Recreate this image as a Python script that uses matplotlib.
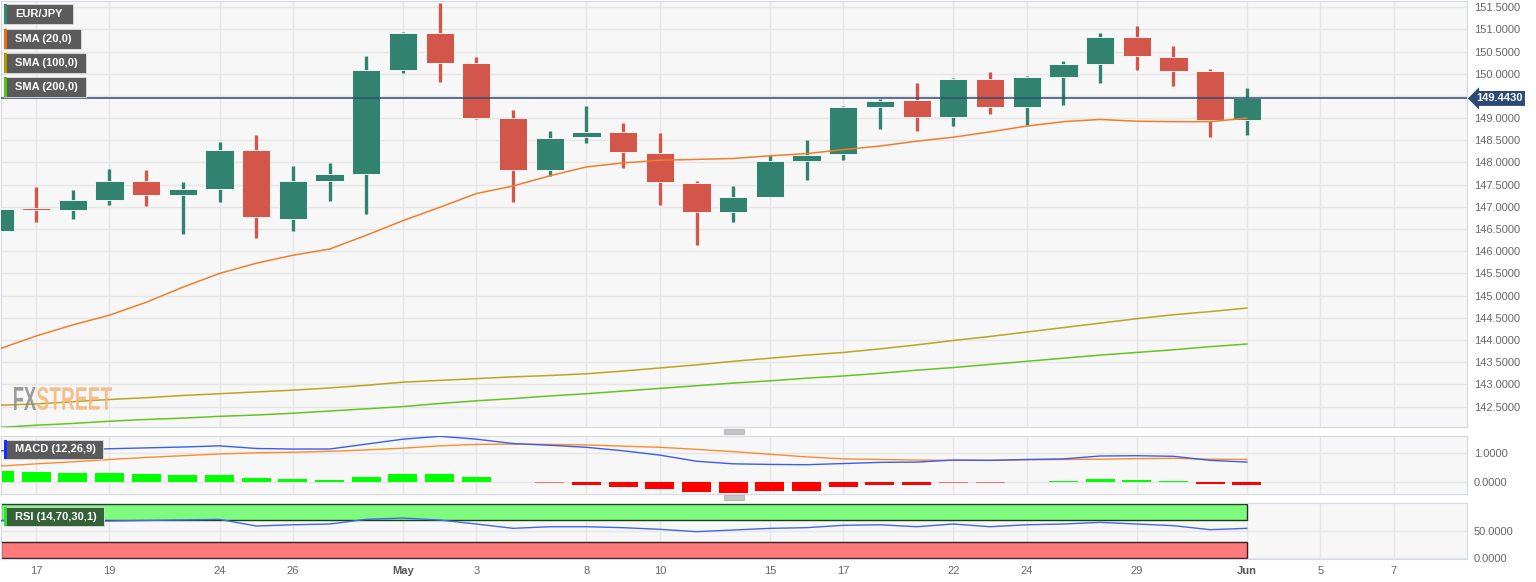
import matplotlib.pyplot as plt
import matplotlib.transforms as mtransforms
from matplotlib.patches import Rectangle, PathPatch
from matplotlib.textpath import TextPath
from matplotlib.font_manager import FontProperties
import numpy as np
import pandas as pd

plt.rcParams['font.family'] = ['Liberation Sans', 'DejaVu Sans']

# Data (EUR/JPY daily)
days = pd.bdate_range('2023-04-14', '2023-06-01')
opens = [146.46, 146.97, 146.93, 147.15, 147.59, 147.26, 147.40, 148.29, 146.72, 147.59,
         147.74, 150.08, 150.92, 150.24, 149.01, 147.82, 148.57, 148.68, 148.21, 147.54,
         146.88, 147.23, 148.04, 148.19, 149.24, 149.40, 149.03, 149.87, 149.25, 149.93,
         150.22, 150.82, 150.38, 150.06, 148.96]
highs = [147.15, 147.44, 147.38, 147.85, 147.83, 147.56, 148.46, 148.62, 147.91, 147.99,
         150.41, 150.95, 151.59, 150.38, 149.19, 148.70, 149.27, 148.90, 148.66, 147.59,
         147.47, 148.18, 148.50, 149.27, 149.44, 149.80, 149.91, 150.03, 149.94, 150.29,
         150.92, 151.07, 150.62, 150.11, 149.67]
lows = [146.23, 146.66, 146.72, 147.05, 147.02, 146.39, 147.12, 146.30, 146.45, 147.14,
        146.84, 150.02, 149.82, 148.98, 147.12, 147.70, 148.44, 147.87, 147.05, 146.13,
        146.66, 147.22, 147.60, 148.06, 148.76, 148.70, 148.82, 149.09, 148.84, 149.29,
        149.80, 150.08, 149.73, 148.58, 148.62]
closes = [146.96, 146.93, 147.15, 147.59, 147.26, 147.40, 148.29, 146.78, 147.59, 147.74,
          150.08, 150.92, 150.24, 149.01, 147.82, 148.56, 148.68, 148.24, 147.56, 146.88,
          147.23, 148.03, 148.18, 149.24, 149.39, 149.03, 149.87, 149.25, 149.92, 150.21,
          150.82, 150.39, 150.07, 148.96, 149.443]
sma20 = [143.80, 144.09, 144.34, 144.56, 144.85, 145.19, 145.50, 145.73, 145.91, 146.05,
         146.36, 146.69, 146.99, 147.30, 147.47, 147.70, 147.90, 147.99, 148.05, 148.07,
         148.09, 148.15, 148.20, 148.29, 148.37, 148.48, 148.57, 148.69, 148.82, 148.92,
         148.97, 148.93, 148.92, 148.92, 149.00]
sma100 = [142.53, 142.56, 142.61, 142.66, 142.70, 142.75, 142.79, 142.83, 142.87, 142.92,
          142.98, 143.05, 143.09, 143.13, 143.17, 143.20, 143.24, 143.30, 143.37, 143.44,
          143.52, 143.59, 143.66, 143.72, 143.80, 143.89, 143.99, 144.08, 144.18, 144.28,
          144.38, 144.48, 144.57, 144.64, 144.72]
sma200 = [142.03, 142.08, 142.12, 142.17, 142.21, 142.24, 142.28, 142.31, 142.35, 142.40,
          142.45, 142.50, 142.57, 142.63, 142.68, 142.74, 142.79, 142.85, 142.91, 142.97,
          143.03, 143.08, 143.14, 143.19, 143.25, 143.32, 143.38, 143.45, 143.52, 143.59,
          143.66, 143.72, 143.78, 143.85, 143.91]
macd = [1.09, 1.11, 1.13, 1.16, 1.19, 1.22, 1.26, 1.17, 1.15, 1.15,
        1.32, 1.49, 1.59, 1.49, 1.34, 1.28, 1.21, 1.09, 0.94, 0.73,
        0.64, 0.62, 0.61, 0.65, 0.69, 0.70, 0.77, 0.76, 0.79, 0.81,
        0.91, 0.92, 0.90, 0.76, 0.70]
signal = [0.56, 0.64, 0.71, 0.79, 0.86, 0.92, 0.98, 1.02, 1.04, 1.07,
          1.12, 1.18, 1.26, 1.31, 1.32, 1.31, 1.29, 1.25, 1.21, 1.14,
          1.06, 0.97, 0.88, 0.81, 0.79, 0.77, 0.76, 0.76, 0.78, 0.79,
          0.80, 0.82, 0.83, 0.80, 0.79]
hist = [0.39, 0.37, 0.34, 0.34, 0.29, 0.25, 0.26, 0.14, 0.10, 0.07,
        0.19, 0.30, 0.30, 0.19, 0.03, -0.03, -0.08, -0.15, -0.24, -0.33,
        -0.36, -0.31, -0.28, -0.16, -0.09, -0.08, -0.02, -0.02, 0.02, 0.04,
        0.10, 0.09, 0.05, -0.04, -0.09]
rsi = [68.5, 68.3, 68.2, 68.0, 69.0, 70.0, 71.0, 58.7, 61.0, 62.4,
       71.0, 73.5, 69.8, 62.4, 54.4, 57.4, 57.4, 55.6, 52.6, 48.2,
       51.3, 54.4, 55.6, 60.0, 61.0, 57.4, 62.4, 57.4, 61.0, 62.4,
       65.5, 62.4, 59.3, 51.9, 54.4]
tick_dates = ['2023-04-17', '2023-04-19', '2023-04-24', '2023-04-26', '2023-05-01', '2023-05-03',
              '2023-05-08', '2023-05-10', '2023-05-15', '2023-05-17', '2023-05-22', '2023-05-24',
              '2023-05-29', '2023-06-01', '2023-06-05', '2023-06-07']

# x positions = trading-day index (weekends skipped)
axis_days = pd.bdate_range('2023-04-14', '2023-06-09')
x = axis_days.get_indexer(days)
tick_dt = pd.to_datetime(tick_dates)
tick_pos = axis_days.get_indexer(tick_dt)
tick_lbl = [d.strftime('%b') if d.day == 1 else str(d.day) for d in tick_dt]

W, H = 1536, 582
fig = plt.figure(figsize=(W / 100, H / 100), dpi=100)


def px_rect(x0, y0, x1, y1):
    return [x0 / W, 1 - y1 / H, (x1 - x0) / W, (y1 - y0) / H]


ax = fig.add_axes(px_rect(0.5, 0.5, 1467, 427))
ax_macd = fig.add_axes(px_rect(0.5, 435.7, 1467, 494))
ax_rsi = fig.add_axes(px_rect(0.5, 502.7, 1467, 558.7))

xmin, xmax = 0.03, 40.0
for a in (ax, ax_macd, ax_rsi):
    a.set_facecolor('#f7f7f7')
    for s in a.spines.values():
        s.set_color('#d3dae6')
    a.set_xlim(xmin, xmax)
    a.set_xticks(tick_pos)
    a.yaxis.tick_right()
    a.tick_params(length=0, labelsize=8, labelcolor='#666666', pad=5)
    a.grid(True, color='#e6e6e6', lw=1)
    a.set_axisbelow(True)

ax.set_xticklabels([])
ax_macd.set_xticklabels([])
ax_rsi.set_xticklabels(tick_lbl)
for t in ax_rsi.get_xticklabels():
    if not t.get_text().isdigit():
        t.set_fontweight('bold')
        t.set_color('#555555')

# Candles
up, down = '#31836f', '#d2574a'
o = np.array(opens)
c = np.array(closes)
cols = [up if cc >= oo else down for oo, cc in zip(o, c)]
ax.vlines(x, lows, highs, color=cols, lw=2.4, zorder=2)
ax.bar(x, np.maximum(np.abs(c - o), 0.03), bottom=np.minimum(o, c), width=0.77,
       color=cols, edgecolor='#ffffff', linewidth=0.6, zorder=3)

ax.plot(x, sma20, color='#f57c2a', lw=1.1, zorder=4)
ax.plot(x, sma100, color='#bda323', lw=1.1, zorder=4)
ax.plot(x, sma200, color='#66c323', lw=1.1, zorder=4)

ax.set_ylim(142.04, 151.65)
ax.set_yticks(np.arange(142.5, 151.51, 0.5))
ax.yaxis.set_major_formatter(plt.FuncFormatter(lambda v, p: f'{v:.4f}'))

last = closes[-1]
ax.axhline(last, color='#2e4d78', lw=1.1, zorder=5)
trans = mtransforms.blended_transform_factory(ax.transAxes, ax.transData)
trans = trans + mtransforms.ScaledTranslation(9 / 100, 0, fig.dpi_scale_trans)
ax.text(1.0, last, f'{last:.4f}', transform=trans, ha='left', va='center', color='white',
        fontsize=8, fontweight='bold',
        bbox=dict(boxstyle='larrow,pad=0.22', fc='#2a4a75', ec='none'))

# MACD
hcols = []
for v in hist:
    if v >= 0:
        hcols.append('#00ff00' if v >= 0.035 else '#98f098')
    else:
        hcols.append('#ff0000' if v <= -0.035 else '#ff7070')
ax_macd.bar(x, hist, width=0.79, color=hcols, zorder=2)
ax_macd.plot(x, signal, color='#ff8a2b', lw=1, zorder=3)
ax_macd.plot(x, macd, color='#3a5cf0', lw=1, zorder=3)
ax_macd.set_ylim(-0.40, 1.61)
ax_macd.set_yticks([0, 1])
ax_macd.yaxis.set_major_formatter(plt.FuncFormatter(lambda v, p: f'{v:.4f}'))

# RSI
end = x[-1]
ax_rsi.add_patch(Rectangle((xmin, 70), end - xmin, 30, fc='#7dfc7d', ec='#1f3a1f', lw=1, zorder=2))
ax_rsi.add_patch(Rectangle((xmin, 0), end - xmin, 30, fc='#ff7b7b', ec='#3a1f1f', lw=1, zorder=2))
ax_rsi.plot(x, rsi, color='#4466ee', lw=1, zorder=3)
ax_rsi.set_ylim(-1.85, 101.9)
ax_rsi.set_yticks([0, 50])
ax_rsi.yaxis.set_major_formatter(plt.FuncFormatter(lambda v, p: f'{v:.4f}'))


# legend tags
def tag(x0, y0, x1, y1, text, strip, fc='#5b5b5b'):
    fig.add_artist(Rectangle((x0 / W, 1 - y1 / H), (x1 - x0) / W, (y1 - y0) / H,
                             transform=fig.transFigure, fc=fc, ec='#e0e0e0', lw=0.6, zorder=10))
    fig.add_artist(Rectangle((x0 / W, 1 - y1 / H), 3 / W, (y1 - y0) / H,
                             transform=fig.transFigure, fc=strip, ec='none', zorder=11))
    fig.text((x0 + 11) / W, 1 - (y0 + y1) / 2 / H, text, color='white', fontsize=8,
             fontweight='bold', va='center', zorder=12)


tag(4, 4, 73, 24, 'EUR/JPY', '#2e8b7a')
tag(4, 29, 81, 49, 'SMA (20,0)', '#f06a10')
tag(4, 53, 86, 73, 'SMA (100,0)', '#b09a00')
tag(4, 77, 86, 97, 'SMA (200,0)', '#55c010')
tag(4, 440, 103, 459, 'MACD (12,26,9)', '#1030ff')
tag(4, 507, 104, 526, 'RSI (14,70,30,1)', '#30e030', fc='#35603a')

# panel drag handles
for yy in (429, 495):
    fig.add_artist(Rectangle((724 / W, 1 - (yy + 5) / H), 20 / W, 5 / H,
                             transform=fig.transFigure, fc='#c4c4c4', ec='#a8a8a8', lw=0.5))

# watermark: condensed lettering, stretched to fit the box in pixels
wm_font = FontProperties(family='Liberation Sans', weight='bold')
for word, col, x0, x1 in (('FX', '#8c8c8c', 14, 36), ('STREET', '#f3b57a', 37, 112)):
    tp = TextPath((0, 0), word, size=1, prop=wm_font)
    ext = tp.get_extents()
    sx = (x1 - x0) / ext.width
    sy = 23 / ext.height
    tr = mtransforms.Affine2D().translate(-ext.x0, -ext.y0).scale(sx, sy).translate(x0, H - 410)
    fig.add_artist(PathPatch(tp, transform=tr, fc=col, ec='none', alpha=0.85, zorder=9))

plt.savefig('out.png', dpi=100, facecolor='white')
